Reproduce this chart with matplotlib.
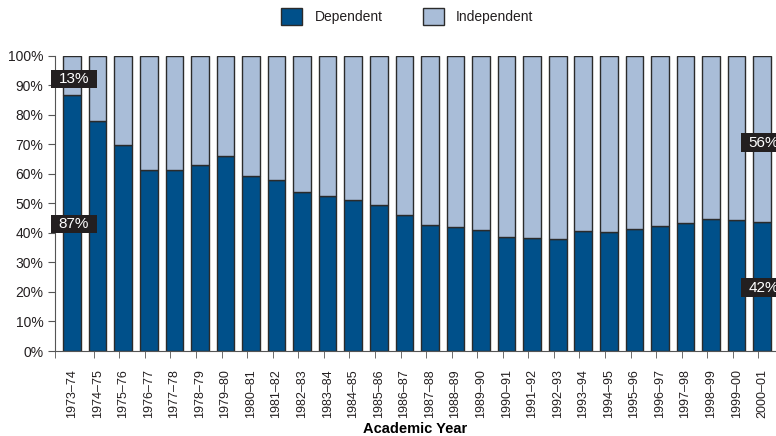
import matplotlib
matplotlib.use("Agg")
import matplotlib.pyplot as plt
import numpy as np
from matplotlib.patches import Patch, Rectangle

plt.rcParams['font.family'] = ['Liberation Sans', 'DejaVu Sans']
plt.rcParams['text.color'] = '#231f20'
plt.rcParams['xtick.labelcolor'] = '#231f20'
plt.rcParams['ytick.labelcolor'] = '#231f20'

years = ["1973\u201374", "1974\u201375", "1975\u201376", "1976\u201377", "1977\u201378",
         "1978\u201379", "1979\u201380", "1980\u201381", "1981\u201382", "1982\u201383",
         "1983\u201384", "1984\u201385", "1985\u201386", "1986\u201387", "1987\u201388",
         "1988\u201389", "1989\u201390", "1990\u201391", "1991\u201392", "1992\u201393",
         "1993\u201394", "1994\u201395", "1995\u201396", "1996\u201397", "1997\u201398",
         "1998\u201399", "1999\u201300", "2000\u201301"]
years[26] = "1999\u201300"
dependent = [86.6, 77.8, 69.8, 61.3, 61.2, 63.0, 66.0, 59.4, 57.9, 54.0,
             52.4, 51.3, 49.5, 46.0, 42.5, 42.0, 40.9, 38.7, 38.3, 37.8,
             40.6, 40.4, 41.3, 42.2, 43.3, 44.6, 44.5, 43.7]
independent = [100 - d for d in dependent]

# callout labels: (bar index, y position in %, text)
callouts = [(0, 92.1, "13%"), (0, 43.0, "87%"), (27, 70.6, "56%"), (27, 21.5, "42%")]

dep_color = "#00508a"
ind_color = "#a9bdd8"
edge = "#2b2b2b"

fig = plt.figure(figsize=(7.76, 4.36), dpi=100)
ax = fig.add_axes([54.7 / 776, 85 / 436, 1 - 54.7 / 776, (351 - 55.7) / 436])

x = np.arange(len(years))
ax.bar(x, dependent, width=0.69, color=dep_color, edgecolor=edge, linewidth=1)
ax.bar(x, independent, bottom=dependent, width=0.69, color=ind_color,
       edgecolor=edge, linewidth=1)

ax.set_xlim(-0.68, 27.54)
ax.set_ylim(0, 100)
ax.set_yticks(np.arange(0, 101, 10))
ax.set_yticklabels([f"{v}%" for v in range(0, 101, 10)], fontsize=10)
ax.set_xticks(x)
ax.set_xticklabels(years, rotation=90, fontsize=9)
ax.tick_params(axis="x", length=0, pad=13)
ax.set_xticks(np.append(x[1:] - 0.5 + 0.35, -0.68), minor=True)
ax.tick_params(axis="x", which="minor", length=5, color="#555555")
ax.tick_params(axis="y", length=5, color="#555555", pad=3)
for s in ["top", "right"]:
    ax.spines[s].set_visible(False)
ax.spines["left"].set_color("#555555")
ax.spines["bottom"].set_color("#555555")
ax.set_xlabel("Academic Year", fontsize=10.5, fontweight="bold", labelpad=3)

for i, yp, txt in callouts:
    xc = x[i] + 0.07
    ax.add_patch(Rectangle((xc - 0.9, yp - 3.2), 1.8, 6.4, facecolor="#231f20",
                           edgecolor="none", clip_on=False, zorder=5))
    ax.text(xc, yp, txt, color="white", fontsize=11, ha="center",
            va="center", zorder=6, clip_on=False)

handles = [Patch(facecolor=dep_color, edgecolor=edge, label="Dependent"),
           Patch(facecolor=ind_color, edgecolor=edge, label="Independent")]
fig.legend(handles=handles, loc="upper center", bbox_to_anchor=(0.525, 1.01),
           ncol=2, frameon=False, fontsize=10, handlelength=1.5,
           handleheight=1.5, handletextpad=0.9, columnspacing=2.9)

fig.savefig("out.png", dpi=100)
